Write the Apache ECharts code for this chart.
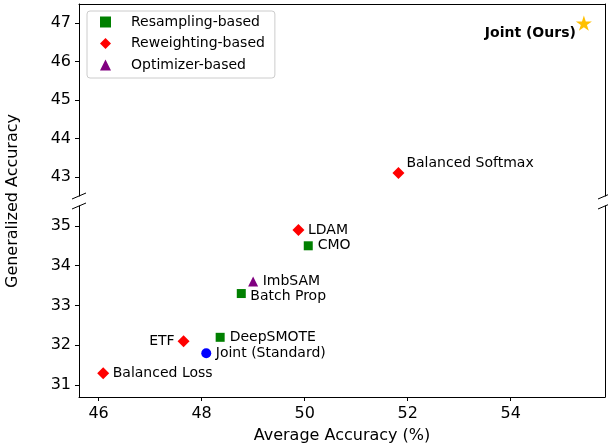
<!DOCTYPE html>
<html lang="en">
<head>
<meta charset="UTF-8">
<title>Generalized vs Average Accuracy</title>
<script src="https://cdn.jsdelivr.net/npm/echarts@6/dist/echarts.min.js"></script>
<style>
    html, body { margin: 0; padding: 0; background: #ffffff; }
    #chart { width: 608px; height: 445px; }
</style>
</head>
<body>
<div id="chart"></div>
<script>
    // data
    var resamplingNames = ['CMO', 'Batch Prop', 'DeepSMOTE'];
    var resamplingX = [50.07, 48.77, 48.36];
    var resamplingY = [34.5, 33.3, 32.2];

    var reweightingNames = ['Balanced Softmax', 'LDAM', 'ETF', 'Balanced Loss'];
    var reweightingX = [51.82, 49.88, 47.65, 46.09];
    var reweightingY = [43.1, 34.9, 32.1, 31.3];

    var optimizerNames = ['ImbSAM'];
    var optimizerX = [49.0];
    var optimizerY = [33.6];

    var jointStdNames = ['Joint (Standard)'];
    var jointStdX = [48.09];
    var jointStdY = [31.8];

    var jointOursNames = ['Joint (Ours)'];
    var jointOursX = [55.42];
    var jointOursY = [47.0];

    var xTicks = [46, 48, 50, 52, 54];
    var yTopTicks = [43, 44, 45, 46, 47];
    var yBottomTicks = [31, 32, 33, 34, 35];

    // layout of the broken axis
    var L = 79, RIGHT = 3, TOP0 = 4, H = 192, TOP1 = 206;
    var R = 608 - RIGHT;
    var BREAK_Y = 40;
    var FONT = 'DejaVu Sans';

    var labelPlace = {
        'Balanced Softmax': {align: 'left', offset: [8, -10]},
        'ETF': {align: 'right', offset: [-9, 0]},
        'Batch Prop': {align: 'left', offset: [9, 3]},
        'Joint (Ours)': {align: 'right', offset: [-8, 10], fontWeight: 'bold'}
    };

    function points(names, xs, ys, top) {
        var out = [];
        for (var i = 0; i < names.length; i++) {
            if ((ys[i] > BREAK_Y) !== top) continue;
            var p = labelPlace[names[i]] || {align: 'left', offset: [9.5, 0]};
            out.push({
                name: names[i],
                value: [xs[i], ys[i]],
                label: {
                    show: true,
                    position: 'inside',
                    formatter: '{b}',
                    align: p.align,
                    verticalAlign: 'middle',
                    offset: p.offset,
                    fontWeight: p.fontWeight || 'normal',
                    fontFamily: FONT,
                    fontSize: 14,
                    color: '#000'
                }
            });
        }
        return out;
    }

    var starPath = 'path://M10,0 L12.245,6.91 L19.51,6.91 L13.63,11.18 L15.88,18.09 L10,13.82 L4.12,18.09 L6.37,11.18 L0.49,6.91 L7.755,6.91 Z';

    function scatter(name, names, xs, ys, top, symbol, size, color) {
        return {
            name: name,
            type: 'scatter',
            xAxisIndex: top ? 0 : 1,
            yAxisIndex: top ? 0 : 2,
            symbol: symbol,
            symbolSize: size,
            symbolKeepAspect: true,
            itemStyle: {color: color, opacity: 1},
            data: points(names, xs, ys, top),
            z: 3
        };
    }

    var series = [];
    [true, false].forEach(function (top) {
        series.push(scatter('Resampling-based', resamplingNames, resamplingX, resamplingY, top, 'rect', 9, '#008000'));
        series.push(scatter('Reweighting-based', reweightingNames, reweightingX, reweightingY, top, 'diamond', 12, '#ff0000'));
        series.push(scatter('Optimizer-based', optimizerNames, optimizerX, optimizerY, top, 'triangle', 10, '#800080'));
        series.push(scatter('Joint (Standard)', jointStdNames, jointStdX, jointStdY, top, 'circle', 10, '#0000ff'));
        series.push(scatter('Joint (Ours)', jointOursNames, jointOursX, jointOursY, top, starPath, 16, '#ffc000'));
    });

    var axisLine = {show: true, onZero: false, lineStyle: {color: '#000', width: 1}};

    function lineOnlyAxis(extra) {
        var a = {
            type: 'value',
            axisLine: axisLine,
            axisTick: {show: false},
            axisLabel: {show: false},
            splitLine: {show: false}
        };
        for (var k in extra) a[k] = extra[k];
        return a;
    }

    function slash(x, y) {
        return {
            type: 'line',
            shape: {x1: x - 7, y1: y + 3, x2: x + 7, y2: y - 3},
            style: {stroke: '#000', lineWidth: 1},
            z: 10
        };
    }

    var myChart = echarts.init(document.getElementById('chart'));
    var option = {
        animation: false,
        backgroundColor: '#ffffff',
        grid: [
            {left: L, right: RIGHT, top: TOP0, height: H},
            {left: L, right: RIGHT, top: TOP1, height: H}
        ],
        xAxis: [
            lineOnlyAxis({gridIndex: 0, position: 'top', min: 45.62, max: 55.83}),
            {
                type: 'value',
                gridIndex: 1,
                position: 'bottom',
                min: 45.62,
                max: 55.83,
                axisLine: axisLine,
                axisTick: {show: true, length: 4, inside: false, customValues: xTicks, lineStyle: {color: '#000'}},
                axisLabel: {show: true, margin: 9, customValues: xTicks, fontFamily: FONT, fontSize: 16, color: '#000'},
                splitLine: {show: false},
                name: 'Average Accuracy (%)',
                nameLocation: 'middle',
                nameGap: 31,
                nameTextStyle: {fontFamily: FONT, fontSize: 16, color: '#000'}
            }
        ],
        yAxis: [
            {
                type: 'value',
                gridIndex: 0,
                position: 'left',
                min: 42.5,
                max: 47.5,
                axisLine: axisLine,
                axisTick: {show: true, length: 4, customValues: yTopTicks, lineStyle: {color: '#000'}},
                axisLabel: {show: true, margin: 8, customValues: yTopTicks, fontFamily: FONT, fontSize: 16, color: '#000'},
                splitLine: {show: false}
            },
            lineOnlyAxis({gridIndex: 0, position: 'right', min: 42.5, max: 47.5}),
            {
                type: 'value',
                gridIndex: 1,
                position: 'left',
                min: 30.7,
                max: 35.5,
                axisLine: axisLine,
                axisTick: {show: true, length: 4, customValues: yBottomTicks, lineStyle: {color: '#000'}},
                axisLabel: {show: true, margin: 8, customValues: yBottomTicks, fontFamily: FONT, fontSize: 16, color: '#000'},
                splitLine: {show: false}
            },
            lineOnlyAxis({gridIndex: 1, position: 'right', min: 30.7, max: 35.5})
        ],
        legend: {
            left: 87,
            top: 11,
            orient: 'vertical',
            data: [
                {name: 'Resampling-based', icon: 'rect'},
                {name: 'Reweighting-based', icon: 'diamond'},
                {name: 'Optimizer-based', icon: 'triangle'}
            ],
            itemWidth: 11,
            itemHeight: 11,
            itemGap: 7.5,
            padding: [4, 10, 6, 13],
            borderColor: '#cccccc',
            borderWidth: 1,
            borderRadius: 3,
            backgroundColor: 'rgba(255,255,255,0.8)',
            selectedMode: false,
            textStyle: {fontFamily: FONT, fontSize: 14, color: '#000', padding: [0, 0, 0, 15]}
        },
        graphic: [
            {
                type: 'text',
                x: 13,
                y: 201,
                rotation: Math.PI / 2,
                style: {
                    text: 'Generalized Accuracy',
                    align: 'center',
                    verticalAlign: 'middle',
                    fontFamily: FONT,
                    fontSize: 16,
                    fill: '#000'
                }
            },
            slash(L, TOP0 + H),
            slash(L, TOP1),
            slash(R, TOP0 + H),
            slash(R, TOP1)
        ],
        series: series
    };
    myChart.setOption(option);
</script>
</body>
</html>
